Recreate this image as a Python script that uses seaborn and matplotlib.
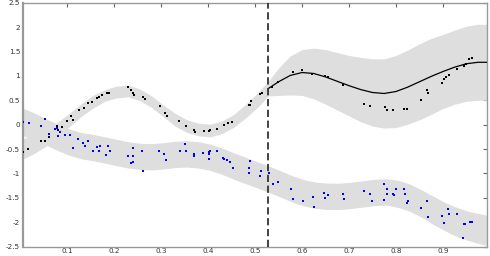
import numpy as np
import pandas as pd
import matplotlib
matplotlib.use("Agg")
import matplotlib.pyplot as plt
import seaborn as sns

# ---- data ----
# black band before the split (narrow)
pre_x = [0.005, 0.03, 0.055, 0.08, 0.105, 0.13, 0.155, 0.18, 0.205, 0.23, 0.255,
         0.28, 0.305, 0.33, 0.355, 0.38, 0.405, 0.43, 0.455, 0.48, 0.505]
pre_mid = [-0.50, -0.40, -0.27, -0.10, 0.10, 0.30, 0.47, 0.60, 0.67, 0.69, 0.61,
           0.47, 0.28, 0.10, -0.03, -0.10, -0.12, -0.05, 0.08, 0.28, 0.50]
pre_hw = [0.21, 0.19, 0.17, 0.15, 0.14, 0.13, 0.13, 0.12, 0.12, 0.12, 0.12,
          0.12, 0.12, 0.13, 0.13, 0.13, 0.13, 0.13, 0.13, 0.14, 0.15]

# black prediction after the split (mean line + wide band)
post_x = [0.528, 0.55, 0.575, 0.6, 0.625, 0.65, 0.675, 0.7, 0.725, 0.75, 0.775,
          0.8, 0.825, 0.85, 0.875, 0.9, 0.925, 0.95, 0.975, 0.995]
post_mean = [0.74, 0.88, 1.01, 1.07, 1.05, 0.98, 0.89, 0.80, 0.72, 0.66, 0.64,
             0.68, 0.77, 0.88, 0.99, 1.09, 1.18, 1.25, 1.28, 1.28]
post_hw = [0.15, 0.28, 0.40, 0.47, 0.52, 0.56, 0.59, 0.62, 0.66, 0.69, 0.71,
           0.74, 0.76, 0.78, 0.78, 0.76, 0.76, 0.77, 0.78, 0.78]

# blue band
blue_x = [0.005, 0.03, 0.055, 0.08, 0.105, 0.13, 0.155, 0.18, 0.205, 0.23, 0.255,
          0.28, 0.305, 0.33, 0.355, 0.38, 0.405, 0.43, 0.455, 0.48, 0.505, 0.53,
          0.555, 0.58, 0.605, 0.63, 0.655, 0.68, 0.705, 0.73, 0.755, 0.78, 0.805,
          0.83, 0.855, 0.88, 0.905, 0.93, 0.955, 0.98, 0.995]
blue_mid = [0.06, -0.04, -0.15, -0.26, -0.36, -0.43, -0.47, -0.52, -0.57, -0.62, -0.65,
            -0.66, -0.64, -0.61, -0.60, -0.62, -0.67, -0.75, -0.85, -0.94, -1.03, -1.12,
            -1.22, -1.32, -1.40, -1.45, -1.47, -1.47, -1.45, -1.42, -1.39, -1.38, -1.42,
            -1.50, -1.62, -1.76, -1.89, -2.00, -2.08, -2.14, -2.17]
blue_hw = [0.28, 0.28, 0.27, 0.27, 0.27, 0.27, 0.27, 0.27, 0.27, 0.27, 0.27,
           0.27, 0.27, 0.27, 0.27, 0.27, 0.27, 0.27, 0.27, 0.27, 0.27, 0.27,
           0.27, 0.27, 0.27, 0.27, 0.27, 0.27, 0.27, 0.27, 0.27, 0.27, 0.28,
           0.28, 0.28, 0.29, 0.29, 0.30, 0.30, 0.31, 0.31]

# observations
black_px = [0.007, 0.017, 0.044, 0.053, 0.062, 0.078, 0.081, 0.085, 0.089, 0.099,
            0.108, 0.113, 0.126, 0.135, 0.145, 0.153, 0.163, 0.167, 0.174, 0.184,
            0.188, 0.230, 0.236, 0.241, 0.243, 0.262, 0.266, 0.298, 0.309, 0.312,
            0.338, 0.353, 0.370, 0.372, 0.391, 0.401, 0.404, 0.418, 0.433, 0.443,
            0.450, 0.487, 0.489, 0.491, 0.511, 0.514, 0.536, 0.549, 0.580, 0.601,
            0.621, 0.649, 0.656, 0.688, 0.733, 0.745, 0.777, 0.780, 0.794, 0.818,
            0.823, 0.853, 0.867, 0.869, 0.899, 0.902, 0.906, 0.913, 0.929, 0.945,
            0.950, 0.956, 0.961]
black_py = [-0.56, -0.50, -0.33, -0.33, -0.26, -0.03, -0.11, -0.15, -0.05, 0.07,
            0.17, 0.09, 0.30, 0.34, 0.45, 0.46, 0.54, 0.56, 0.60, 0.64,
            0.65, 0.77, 0.72, 0.64, 0.60, 0.57, 0.52, 0.38, 0.23, 0.18,
            0.07, -0.03, -0.10, -0.15, -0.13, -0.13, -0.11, -0.08, -0.01, 0.04,
            0.06, 0.40, 0.41, 0.48, 0.63, 0.64, 0.77, 0.88, 1.08, 1.13,
            1.03, 0.99, 0.97, 0.81, 0.43, 0.39, 0.36, 0.30, 0.30, 0.33,
            0.33, 0.50, 0.71, 0.64, 0.86, 0.93, 0.98, 1.01, 1.15, 1.20,
            1.24, 1.34, 1.36]

blue_px = [0.007, 0.018, 0.044, 0.053, 0.062, 0.074, 0.078, 0.085, 0.081, 0.096,
           0.106, 0.124, 0.112, 0.133, 0.138, 0.145, 0.155, 0.167, 0.163, 0.170,
           0.186, 0.183, 0.191, 0.230, 0.236, 0.241, 0.241, 0.241, 0.259, 0.262,
           0.296, 0.307, 0.311, 0.340, 0.351, 0.353, 0.369, 0.371, 0.390, 0.401,
           0.402, 0.404, 0.402, 0.419, 0.431, 0.434, 0.440, 0.447, 0.452, 0.489,
           0.487, 0.487, 0.511, 0.513, 0.530, 0.539, 0.548, 0.577, 0.580, 0.603,
           0.623, 0.626, 0.647, 0.649, 0.655, 0.687, 0.689, 0.732, 0.745, 0.748,
           0.775, 0.780, 0.782, 0.774, 0.794, 0.796, 0.800, 0.818, 0.819, 0.823,
           0.826, 0.853, 0.867, 0.869, 0.899, 0.902, 0.910, 0.914, 0.929, 0.942,
           0.945, 0.948, 0.957, 0.962]
blue_py = [0.05, 0.04, -0.02, 0.11, -0.19, -0.08, -0.07, -0.15, -0.24, -0.22,
           -0.22, -0.29, -0.47, -0.38, -0.43, -0.33, -0.55, -0.54, -0.46, -0.43,
           -0.43, -0.63, -0.54, -0.65, -0.79, -0.77, -0.47, -0.65, -0.55, -0.95,
           -0.54, -0.60, -0.72, -0.55, -0.40, -0.54, -0.60, -0.65, -0.58, -0.60,
           -0.56, -0.54, -0.71, -0.54, -0.69, -0.70, -0.73, -0.77, -0.89, -0.75,
           -0.89, -0.99, -1.05, -0.96, -1.00, -1.22, -1.18, -1.32, -1.53, -1.56,
           -1.49, -1.68, -1.40, -1.51, -1.45, -1.42, -1.53, -1.37, -1.42, -1.56,
           -1.22, -1.32, -1.42, -1.54, -1.42, -1.45, -1.32, -1.32, -1.42, -1.61,
           -1.56, -1.71, -1.56, -1.90, -1.87, -2.02, -1.73, -1.83, -1.83, -2.33,
           -2.03, -2.03, -2.00, -2.00]

split_x = 0.528
x_ticks = [0.1, 0.2, 0.3, 0.4, 0.5, 0.6, 0.7, 0.8, 0.9]
y_ticks = [2.5, 2, 1.5, 1, 0.5, 0, -0.5, -1, -1.5, -2, -2.5]
y_labels = ["2.5", "2", "1.5", "1", "0.5", "0", "-0.5", "-1", "-1.5", "-2", "-2.5"]

# ---- figure ----
sns.set_style("white")
plt.rcParams["font.family"] = ["DejaVu Sans"]

fig = plt.figure(figsize=(4.9, 2.56), dpi=100)
ax = fig.add_axes([0.047, 0.037, 0.947, 0.952])

band_col = "#dedede"
bx = np.array(pre_x + post_x)
bmid = np.array(pre_mid + post_mean)
bhw = np.array(pre_hw + post_hw)
ax.fill_between(bx, bmid - bhw, bmid + bhw, color=band_col, lw=0, zorder=1)

ux = np.array(blue_x)
umid = np.array(blue_mid)
uhw = np.array(blue_hw)
ax.fill_between(ux, umid - uhw, umid + uhw, color=band_col, lw=0, zorder=1)

mean_df = pd.DataFrame({"x": post_x, "y": post_mean})
sns.lineplot(data=mean_df, x="x", y="y", color="black", lw=0.9, ax=ax, zorder=3)

blk = pd.DataFrame({"x": black_px, "y": black_py})
blu = pd.DataFrame({"x": blue_px, "y": blue_py})
sns.scatterplot(data=blk, x="x", y="y", color="black", marker="s", s=2.5,
                linewidth=0, ax=ax, zorder=4)
sns.scatterplot(data=blu, x="x", y="y", color="#0000ff", marker="s", s=3.5,
                linewidth=0, ax=ax, zorder=4)

ax.axvline(split_x, color="#333333", lw=1.3, ls=(0, (4, 2)), zorder=5)

ax.set_xlim(0.006, 0.994)
ax.set_ylim(-2.5, 2.5)
ax.set_xticks(x_ticks)
ax.set_xticklabels([f"{t:.1f}" for t in x_ticks])
ax.set_yticks(y_ticks)
ax.set_yticklabels(y_labels)
ax.set_xlabel("")
ax.set_ylabel("")

ax.tick_params(direction="in", length=3, width=0.8, colors="#666666",
               labelsize=5.2, labelcolor="#333333", top=True, right=True,
               pad=2)
ax.tick_params(axis="x", pad=1)
for side, sp in ax.spines.items():
    sp.set_visible(True)
    sp.set_color("#999999")
    sp.set_linewidth(1.0)
ax.spines["left"].set_linewidth(1.6)

fig.savefig("out.png", dpi=100)
